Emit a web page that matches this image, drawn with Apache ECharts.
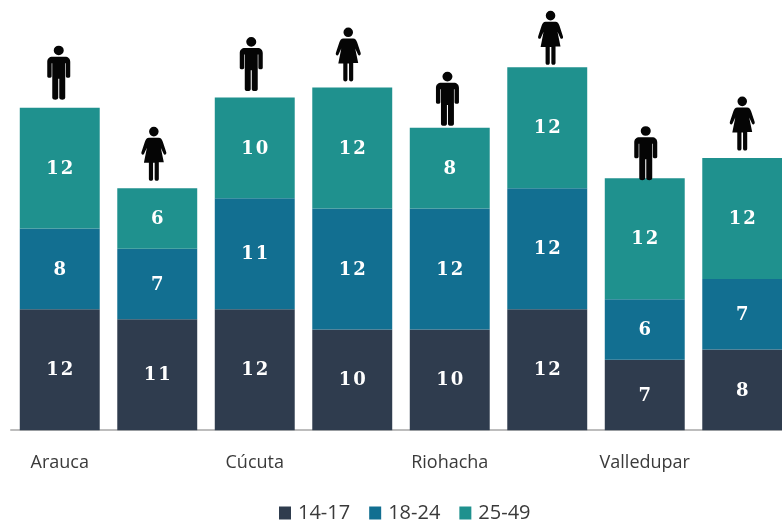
<!DOCTYPE html>
<html><head><meta charset="utf-8">
<style>html,body{margin:0;background:#fff}#c{width:782px;height:523px}</style>
<script src="https://cdn.jsdelivr.net/npm/echarts@6/dist/echarts.min.js"></script>
</head><body><div id="c"></div>
<script>
const categories = ["Arauca","","Cúcuta","","Riohacha","","Valledupar",""];
const sexes = ["m","f","m","f","m","f","m","f"];
const age1417 = [12,11,12,10,10,12,7,8];
const age1824 = [8,7,11,12,12,12,6,7];
const age2549 = [12,6,10,12,8,12,12,12];
const seriesNames = ["14-17","18-24","25-49"];
const colors = ["#2F3C4E","#126F91","#1F918E"];

const MAN = "path://M12 0a4.8 4.8 0 1 1-.01 0z M6 11H18C21 11 23 13 23 16V30.5C23 32.5 18.8 32.5 18.8 30.5V17.5H18.2V52C18.2 54.5 12.5 54.5 12.5 52V33H11.5V52C11.5 54.5 5.8 54.5 5.8 52V17.5H5.2V30.5C5.2 32.5 1 32.5 1 30.5V16C1 13 3 11 6 11z";
const WOMAN = "path://M12.5 0a4.8 4.8 0 1 1-.01 0z M7.5 11H17.5C19.5 11 20.5 12.5 21.5 15L25 25.5C25.5 28 23 28.5 22.3 27L19.5 21 22.5 35.5H17.5V52C17.5 54.5 13.3 54.5 13.3 52V36H11.7V52C11.7 54.5 7.5 54.5 7.5 52V36H2.5L5.5 21 2.7 27C2 28.5-.5 28 0 25.5L3.5 15C4.5 12.5 5.5 11 7.5 11z";

const totals = age1417.map((v,i)=>v+age1824[i]+age2549[i]);
const serif = '"DejaVu Serif","Liberation Serif",serif';
const barSeries = [age1417,age1824,age2549].map((d,i)=>({
  name: seriesNames[i], type:"bar", stack:"a", data:d, barCategoryGap:"18%",
  itemStyle:{color:colors[i]},
  label:{show:true,position:"inside",offset:[0,1],color:"#fff",fontFamily:serif,fontWeight:"bold",fontSize:18,
    formatter:p=>String(p.value).split("").join("\u200A")}
}));
// the pictograms sit a little off-centre in the reference
const iconNudgeX = [-1,-3.4,-3.5,-4,-2.3,3.3,1,0];
const iconNudgeY = [-35,-34.5,-33.5,-33,-29,-29.5,-25,-34.5];
const iconSeries = {
  name:"icons", type:"scatter", silent:true, z:5,
  data: totals.map((t,i)=>({
    value:t,
    symbol: sexes[i]==="m"?MAN:WOMAN,
    symbolSize: sexes[i]==="m"?[23,54]:[25,54],
    symbolOffset:[iconNudgeX[i],iconNudgeY[i]],
    itemStyle:{color:"#050505",opacity:1}
  }))
};
const chart = echarts.init(document.getElementById("c"),null,{renderer:"canvas"});
chart.setOption({
  animation:false,
  color:colors,
  grid:{left:11,width:780,top:27,height:403.2,containLabel:false,outerBoundsMode:"none"},
  legend:{
    data:seriesNames, bottom:-5, left:274, icon:"rect", itemWidth:12, itemHeight:13, itemGap:19,
    textStyle:{color:"#3a3a3a",fontFamily:'"Open Sans",sans-serif',fontSize:20,padding:[0,0,0,2]}
  },
  xAxis:{type:"category",data:categories,
    axisLine:{show:true,lineStyle:{color:"#BDBDBD",width:2}},
    axisTick:{show:false},
    axisLabel:{interval:0,margin:24,color:"#3a3a3a",fontFamily:'"Open Sans",sans-serif',fontSize:18}},
  yAxis:{type:"value",min:0,max:40,show:false},
  series:[...barSeries,iconSeries]
});
</script></body></html>
